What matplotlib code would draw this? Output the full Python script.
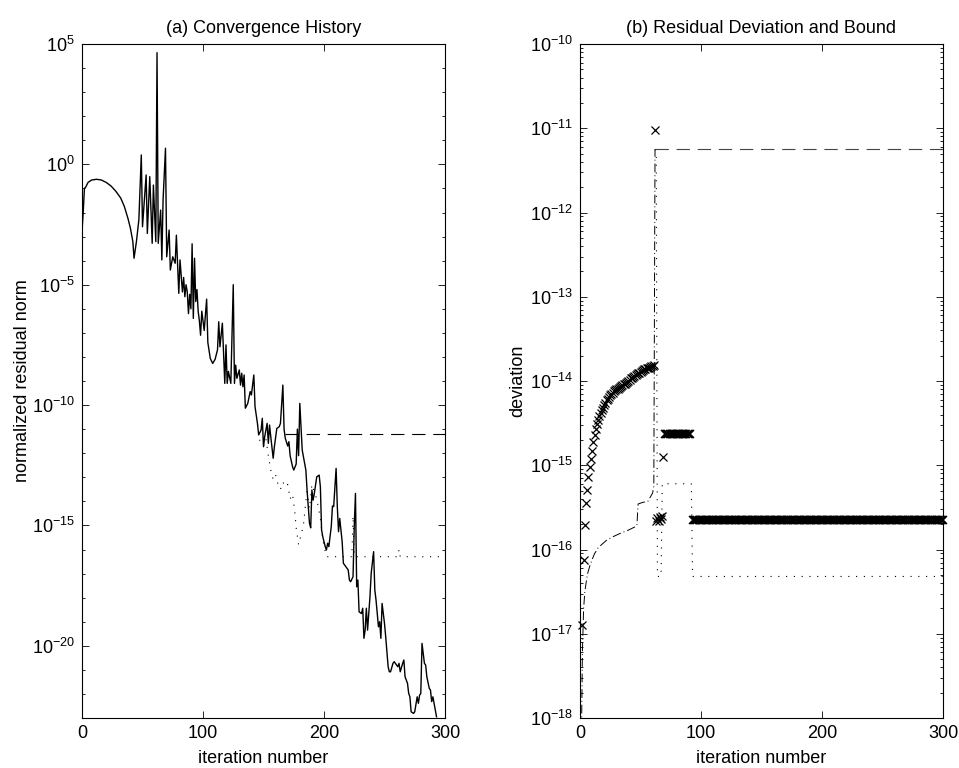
import numpy as np
import matplotlib
matplotlib.use('Agg')
import matplotlib.pyplot as plt
from matplotlib import ticker

plt.rcParams['font.family'] = ['Liberation Sans', 'DejaVu Sans']
plt.rcParams['font.size'] = 13
plt.rcParams['axes.linewidth'] = 0.8

#---------------------------- (a) data, log10 of the residual norm
conv_iter = [0, 1, 2, 3, 5, 8, 12, 16, 20, 24, 28, 32, 35, 38, 40, 42, 43, 45, 47,
             49, 50, 53, 54, 56, 58, 59, 61, 62, 63, 65, 66, 67, 69, 70, 72, 73, 75,
             77, 78, 80, 81, 83, 84, 85, 86, 87, 88, 89, 90, 91, 92, 93, 94, 95, 96,
             97, 98, 99, 101, 103, 104, 106, 108, 110, 112, 113, 114, 116, 117, 118,
             119, 120, 121, 123, 124, 125, 126, 127, 128, 130, 131, 132, 133, 134,
             135, 137, 139, 140, 142, 143, 145, 146, 148, 149, 150, 151, 153, 154,
             155, 156, 158, 159, 161, 163, 164, 166, 167, 168, 170, 171, 172, 174,
             175, 177, 178, 179, 180, 182, 183, 185, 186, 188, 189, 190, 191, 192,
             194, 196, 197, 198, 199, 201, 202, 203, 204, 206, 207, 208, 210, 211,
             212, 213, 215, 216, 218, 220, 221, 222, 224, 225, 226, 227, 228, 229,
             231, 232, 233, 234, 235, 236, 238, 239, 241, 242, 243, 245, 246, 247,
             248, 250, 251, 253, 254, 255, 257, 258, 259, 261, 262, 263, 265, 266,
             267, 269, 270, 271, 272, 274, 275, 277, 278, 279, 280, 281, 283, 284,
             285, 287, 288, 289, 290, 291, 293]
conv_log = [-2.8, -2.0, -1.0, -0.95, -0.75, -0.65, -0.62, -0.65, -0.75, -0.9, -1.12,
            -1.4, -1.75, -2.25, -2.65, -3.2, -3.9, -3.2, -2.3,
            0.39, -2.59, -0.44, -2.87, -0.51, -3.28, -0.86, -3.21, 4.64, -3.28, -1.9,
            -3.97, -1.48, 0.67, -3.84, -2.73, -4.39, -3.84,
            -4.11, -2.94, -5.36, -3.97, -5.3, -4.7, -5.5, -5.0, -5.3, -6.2, -5.4, -6.0,
            -3.3, -6.4, -3.9, -5.7, -5.2, -6.1,
            -6.5, -7.1, -6.1, -6.9, -5.6, -7.4, -8.06, -8.27, -8.1, -7.7, -6.54, -7.58,
            -6.6, -7.9, -9.1,
            -7.5, -9.1, -8.6, -9.1, -7.0, -5.0, -9.1, -8.34, -8.89, -8.54, -9.17, -8.68,
            -9.24, -8.75,
            -10.13, -9.93, -9.44, -9.58, -8.75, -10.07, -10.76, -11.24, -11.04, -10.55,
            -11.73, -11.31, -10.76, -11.59,
            -10.83, -11.31, -12.21, -11.73, -10.97, -10.9, -10.76, -9.17, -11.0, -11.38,
            -11.7, -11.52, -12.1, -12.56,
            -12.7, -12.45, -11.0, -12.1, -9.93, -11.87, -12.15, -12.7, -13.53, -14.91,
            -15.1, -13.53, -13.95, -13.67,
            -12.98, -12.91, -13.39, -15.19, -15.47, -15.88, -16.02, -15.74, -15.88,
            -15.05, -14.19, -14.22, -12.63, -14.22,
            -15.26, -14.71, -15.67, -16.57, -16.71, -16.85, -17.27, -17.34, -17.13,
            -15.05, -13.67, -17.55, -17.27, -18.59,
            -18.66, -18.44, -19.69, -19.35, -18.44, -19.35, -17.96, -16.99, -16.09,
            -17.68, -18.1, -19.21, -19.0, -19.69,
            -18.24, -19.07, -19.63, -20.87, -21.08, -21.08, -20.73, -20.66, -20.73,
            -20.87, -20.73, -21.08, -20.73, -20.59,
            -21.29, -21.56, -21.98, -22.12, -22.74, -22.81, -22.74, -22.12, -22.39,
            -22.05, -21.98, -19.9, -20.73, -20.8,
            -21.29, -21.77, -21.84, -22.32, -22.12, -22.39, -22.95]

true_iter = [145, 147, 150, 152, 154, 156, 158, 160, 162, 164, 166, 168, 170, 172,
             174, 176, 177, 179, 181, 183, 185, 186, 188, 190, 192, 194, 197, 199,
             202, 223, 224, 225, 261, 262, 263, 295]
true_log = [-10.8, -11.5, -11.7, -11.4, -12.1, -12.7, -13.1, -12.9, -13.3, -13.5,
            -13.2, -13.4, -13.3, -13.9, -13.7, -14.5, -15.1, -15.8, -15.4, -15.0,
            -14.0, -13.6, -14.3, -13.3, -13.6, -13.9, -14.7, -15.6, -16.3, -16.3,
            -14.6, -16.3, -16.3, -16.0, -16.3, -16.3]

bound_a_iter = [168, 300]
bound_a_log = [-11.22, -11.22]

#---------------------------- (b) data, log10 of the deviation
dev_iter = list(range(2, 62))
dev_log = [-16.90, -16.12, -15.71, -15.45, -15.29, -15.14, -15.02, -14.92, -14.83,
           -14.72, -14.64, -14.57, -14.51, -14.46, -14.42, -14.38, -14.35, -14.32,
           -14.29, -14.26, -14.23, -14.21, -14.19, -14.17, -14.15, -14.14, -14.12,
           -14.11, -14.10, -14.09, -14.08, -14.07, -14.06, -14.05, -14.04, -14.03,
           -14.02, -14.01, -14.00, -13.99, -13.97, -13.96, -13.95, -13.94, -13.93,
           -13.92, -13.91, -13.90, -13.89, -13.88, -13.87, -13.86, -13.86, -13.85,
           -13.84, -13.84, -13.83, -13.82, -13.82, -13.81]
jump_iter = [62, 63, 64, 65, 66, 67, 68, 69]
jump_log = [-11.02, -15.66, -15.63, -15.66, -15.62, -15.64, -15.60, -14.90]
band_hi_iter = list(range(70, 92))
band_hi_level = -14.63
band_lo_iter = list(range(93, 301))
band_lo_level = -15.65

dashdot_iter = [1, 2, 3, 4, 5, 6, 8, 10, 12, 15, 18, 22, 27, 33, 40, 47, 48, 52,
                56, 60, 61, 62]
dashdot_log = [-18.5, -17.2, -16.7, -16.5, -16.4, -16.3, -16.2, -16.12, -16.05,
               -15.98, -15.94, -15.89, -15.85, -15.81, -15.77, -15.72, -15.46,
               -15.44, -15.43, -15.33, -15.25, -11.25]
dotted_iter = [62, 63, 64, 67, 68, 92, 93, 300]
dotted_log = [-11.25, -11.3, -16.32, -16.32, -15.22, -15.22, -16.32, -16.32]
bound_b_iter = [62, 300]
bound_b_log = [-11.25, -11.25]

#---------------------------- figure
fig = plt.figure(figsize=(9.59, 7.68), dpi=100)
ax1 = fig.add_axes([82 / 959, 50 / 768, 363 / 959, 674 / 768])
ax2 = fig.add_axes([580 / 959, 50 / 768, 363 / 959, 674 / 768])

dash_long = (0, (12, 7))
dots = (0, (1, 6))

ax1.plot(conv_iter, 10.0 ** np.array(conv_log), color='black', lw=1.0)
ax1.plot(true_iter, 10.0 ** np.array(true_log), color='black', lw=0.8, ls=dots)
ax1.plot(bound_a_iter, 10.0 ** np.array(bound_a_log), color='black', lw=0.8, ls=dash_long)

ax2.plot(bound_b_iter, 10.0 ** np.array(bound_b_log), color='#444444', lw=0.8, ls=dash_long)
ax2.plot(dashdot_iter, 10.0 ** np.array(dashdot_log), color='black', lw=0.7,
         ls=(0, (9, 3, 1, 3)))
ax2.plot(dotted_iter, 10.0 ** np.array(dotted_log), color='black', lw=0.8, ls=dots)
mk = dict(ls='none', marker='x', color='black', ms=6, mew=0.9, clip_on=False)
ax2.plot(dev_iter, 10.0 ** np.array(dev_log), **mk)
ax2.plot(jump_iter, 10.0 ** np.array(jump_log), **mk)
# the two flat runs of crosses merge into solid bars in the original
band = dict(mk, mew=1.1, snap=False)
ax2.plot(band_hi_iter, np.full(len(band_hi_iter), 10.0 ** band_hi_level), **band)
ax2.plot(band_lo_iter, np.full(len(band_lo_iter), 10.0 ** band_lo_level), **band)

for ax in (ax1, ax2):
    ax.set_yscale('log')
    ax.set_xlim(0, 300)
    ax.set_xticks([0, 100, 200, 300])
    ax.tick_params(which='both', direction='in', top=True, right=True,
                   width=0.6, labelsize=13, pad=5)
    ax.tick_params(which='major', length=5)
    ax.tick_params(which='minor', length=2.5)
    ax.set_xlabel('iteration number', labelpad=6)

ax1.set_ylim(1e-23, 1e5)
ax1.yaxis.set_major_locator(ticker.FixedLocator([10.0 ** k for k in range(-20, 6, 5)]))
ax1.yaxis.set_minor_locator(ticker.FixedLocator([10.0 ** k for k in range(-23, 6)]))
ax1.yaxis.set_major_formatter(ticker.LogFormatterSciNotation())
ax1.yaxis.set_minor_formatter(ticker.NullFormatter())
ax1.set_ylabel('normalized residual norm')
ax1.yaxis.set_label_coords(-0.140, 0.5)
ax1.set_title('(a) Convergence History', fontsize=13, pad=8)

ax2.set_ylim(1e-18, 1e-10)
ax2.yaxis.set_major_locator(ticker.LogLocator(base=10, numticks=20))
ax2.yaxis.set_minor_locator(ticker.LogLocator(base=10, subs=np.arange(2, 10), numticks=20))
ax2.yaxis.set_minor_formatter(ticker.NullFormatter())
ax2.set_ylabel('deviation')
ax2.yaxis.set_label_coords(-0.149, 0.5)
ax2.set_title('(b) Residual Deviation and Bound', fontsize=13, pad=8)

fig.savefig('out.png', dpi=100)
